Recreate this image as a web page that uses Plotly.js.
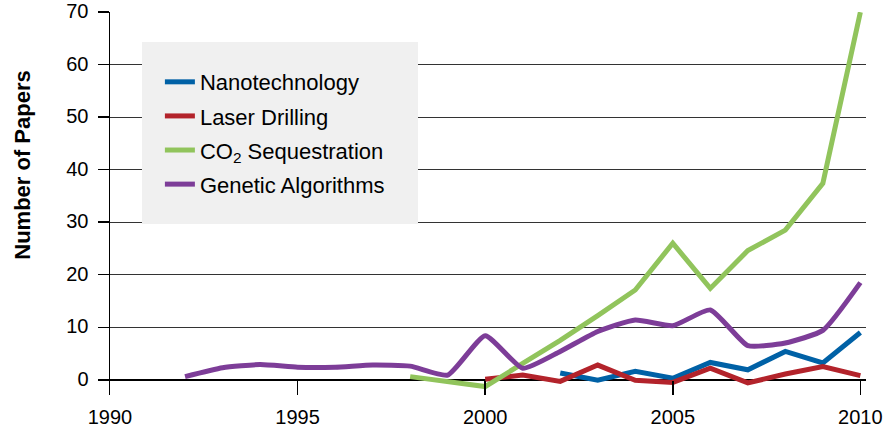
<!DOCTYPE html>
<html>
<head>
<meta charset="utf-8">
<script src="https://cdn.plot.ly/plotly-3.0.1.min.js"></script>
<style>html,body{margin:0;padding:0;background:#fff;}#chart{width:892px;height:428px;}</style>
</head>
<body>
<div id="chart"></div>
<script>
// Data
const nanoYears = [2002, 2003, 2004, 2005, 2006, 2007, 2008, 2009, 2010];
const nanoValues = [1.3, -0.1, 1.6, 0.3, 3.3, 1.9, 5.4, 3.2, 9.0];

const laserYears = [2000, 2001, 2002, 2003, 2004, 2005, 2006, 2007, 2008, 2009, 2010];
const laserValues = [0.1, 0.9, -0.3, 2.8, -0.1, -0.5, 2.2, -0.6, 1.1, 2.5, 0.8];

const co2Years = [1998, 2000, 2001, 2002, 2003, 2004, 2005, 2006, 2007, 2008, 2009, 2010];
const co2Values = [0.6, -1.3, 3.1, 7.5, 12.2, 17.1, 26.0, 17.4, 24.6, 28.5, 37.4, 70.0];

const gaYears = [1992, 1993, 1994, 1995, 1996, 1997, 1998, 1999, 2000, 2001, 2002, 2003, 2004, 2005, 2006, 2007, 2008, 2009, 2010];
const gaValues = [0.6, 2.3, 2.9, 2.4, 2.4, 2.8, 2.6, 0.9, 8.4, 2.2, 5.4, 9.2, 11.4, 10.3, 13.3, 6.5, 7.0, 9.4, 18.5];

const seriesNames = ["Nanotechnology", "Laser Drilling", "CO<sub>2</sub> Sequestration", "Genetic Algorithms"];
const xTicks = [1990, 1995, 2000, 2005, 2010];
const yTicks = [0, 10, 20, 30, 40, 50, 60, 70];
const yTitle = "Number of Papers";

const FONT = "Liberation Sans, Arial, Helvetica, sans-serif";

const traces = [
  {x: nanoYears, y: nanoValues, name: seriesNames[0], legendgroup: "a", mode: "lines", line: {color: "#0061a6", width: 5}},
  {x: laserYears, y: laserValues, name: seriesNames[1], legendgroup: "b", mode: "lines", line: {color: "#b3232b", width: 5}},
  {x: co2Years, y: co2Values, name: seriesNames[2], legendgroup: "c", mode: "lines", line: {color: "#91c45c", width: 5}},
  {x: gaYears, y: gaValues, name: seriesNames[3], legendgroup: "d", mode: "lines", line: {color: "#7d3d98", width: 5, shape: "spline", smoothing: 0.5}}
];

const layout = {
  width: 892, height: 428,
  margin: {l: 110, r: 26, t: 12, b: 33},
  paper_bgcolor: "#ffffff",
  plot_bgcolor: "#ffffff",
  font: {family: FONT, size: 20, color: "#000"},
  showlegend: true,
  legend: {
    x: 0.066, y: 0.872, xanchor: "left", yanchor: "top",
    bgcolor: "rgba(0,0,0,0)", borderwidth: 0,
    font: {family: FONT, size: 22, color: "#000"},
    itemwidth: 30, traceorder: "grouped", tracegroupgap: 2.5
  },
  shapes: [{
    type: "rect", xref: "paper", yref: "paper",
    x0: 0.0423, x1: 0.4074, y0: 0.4465, y1: 0.9217,
    fillcolor: "#f0f0f0", line: {width: 0}, layer: "above"
  }],
  annotations: [{
    text: "<b>" + yTitle + "</b>", textangle: -90,
    xref: "paper", yref: "paper", x: -0.116, y: 0.602,
    xanchor: "center", yanchor: "middle", showarrow: false,
    font: {family: FONT, size: 22, color: "#000"}
  }],
  xaxis: {
    range: [1990, 2010.15],
    tickvals: xTicks, ticktext: xTicks.map(String),
    ticks: "inside", ticklen: 14, tickwidth: 1.5, tickcolor: "#000",
    showline: false, showgrid: false, zeroline: false,
    tickfont: {family: FONT, size: 20, color: "#000"},
    ticklabelstandoff: 8
  },
  yaxis: {
    range: [-2.9, 70.03],
    tickvals: yTicks, ticktext: yTicks.map(String),
    ticks: "outside", ticklen: 11, tickwidth: 1.5, tickcolor: "#000",
    showline: true, linecolor: "#000", linewidth: 1.5,
    showgrid: true, gridcolor: "#333", gridwidth: 1.3,
    zeroline: true, zerolinecolor: "#000", zerolinewidth: 1.5,
    tickfont: {family: FONT, size: 20, color: "#000"},
    ticklabelstandoff: 5,
    ticklabelshift: -1
  }
};

Plotly.newPlot("chart", traces, layout, {displayModeBar: false, staticPlot: true});
</script>
</body>
</html>
